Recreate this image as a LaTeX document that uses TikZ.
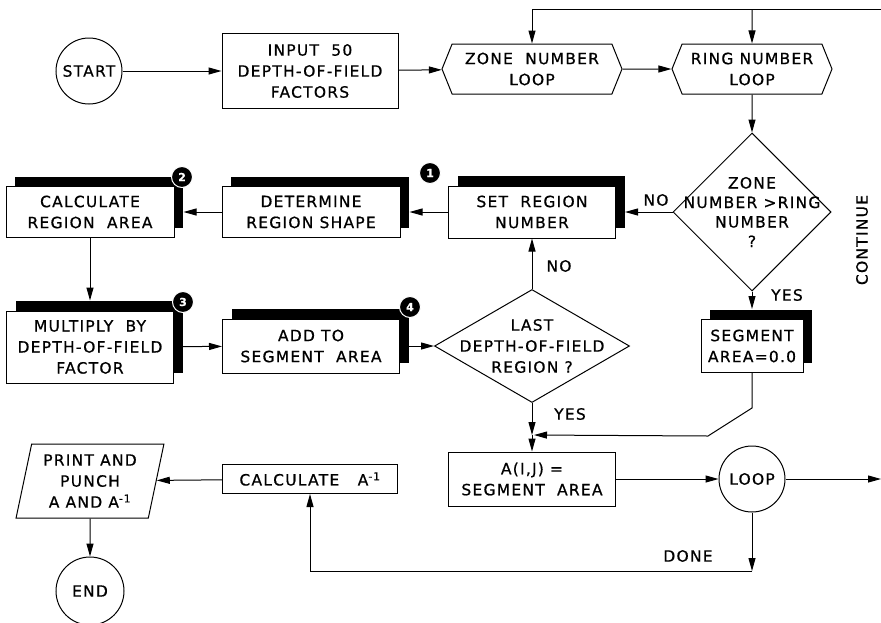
\documentclass[tikz,border=0pt]{standalone}
\usepackage{fontspec}
\setmainfont{DejaVu Sans}[LetterSpace=8, FakeBold=0.7]
\usetikzlibrary{arrows.meta,shapes.geometric,shapes.symbols,shadows}

\tikzset{
  arr/.style={-{Triangle[length=13pt,width=7pt]}},
  box/.style={draw, fill=white, align=center, inner sep=1pt},
  shbox/.style={box, drop shadow={shadow xshift=9pt, shadow yshift=10pt, fill=black, opacity=1}},
  term/.style={draw, circle, inner sep=0pt},
  hexa/.style={draw, signal, signal to=west and east, signal pointer angle=136, align=center, inner sep=1pt},
  decision/.style={draw, diamond, inner sep=0pt},
  badge/.style={circle, fill=black, draw=white, text=white, inner sep=0pt, minimum size=21pt, font=\bfseries\fontsize{11}{11}\selectfont},
  lbl/.style={inner sep=0pt}
}

\begin{document}
\begin{tikzpicture}[x=1pt, y=-1pt, line width=1pt, font=\fontsize{15.5}{21}\selectfont]
 \useasboundingbox (0,0) rectangle (881,622);

 % first row
 \node[term, minimum size=66pt] (start) at (89,71) {START};
 \node[box, minimum width=176pt, minimum height=75pt] (input) at (310,71) {INPUT\ \ 50\\DEPTH-OF-FIELD\\FACTORS};
 \node[hexa, minimum width=180pt, minimum height=50pt] (zone) at (532,69) {ZONE\ \ NUMBER\\LOOP};
 \node[hexa, minimum width=160pt, minimum height=50pt] (ring) at (752,69) {RING NUMBER\\LOOP};
 \coordinate (back) at (881,9);

 % second row
 \node[decision, minimum width=158pt, minimum height=158pt] (cmp) at (752,212) {};
 \node[align=center, font=\fontsize{15.5}{19.5}\selectfont] (cmptxt) at (cmp) {ZONE\\NUMBER >RING\\NUMBER\\?};
 \node[shbox, minimum width=167pt, minimum height=52pt] (sr) at (532,212) {SET\ \ REGION\\NUMBER};
 \node[shbox, minimum width=178pt, minimum height=51pt] (det) at (311,212) {DETERMINE\\REGION SHAPE};
 \node[shbox, minimum width=168pt, minimum height=51pt] (calc) at (90,212) {CALCULATE\\REGION\ \ AREA};

 % third row
 \node[shbox, minimum width=167pt, minimum height=72pt] (mult) at (90,347) {MULTIPLY\ \ BY\\DEPTH-OF-FIELD\\FACTOR};
 \node[shbox, minimum width=177pt, minimum height=54pt] (add) at (311,346) {ADD TO\\SEGMENT\ \ AREA};
 \node[decision, minimum width=195pt, minimum height=113pt] (last) at (532,346) {};
 \node[align=center] (lasttxt) at (last) {LAST\\DEPTH-OF-FIELD\\REGION ?};
 \node[shbox, minimum width=102pt, minimum height=53pt] (seg) at (752,346) {SEGMENT\\AREA=0.0};

 % badges
 \node[badge] (b1) at (430,173) {1};
 \node[badge] (b2) at (182,177) {2};
 \node[badge] (b3) at (183,302) {3};
 \node[badge] (b4) at (410,307) {4};

 % fourth row
 \node[box, minimum width=167pt, minimum height=54pt] (aij) at (532,479) {A(I,J) =\\SEGMENT\ \ AREA};
 \node[term, minimum size=66pt] (loop) at (752,479) {LOOP};
 \coordinate (out) at (881,479);
 \node[box, minimum width=175pt, minimum height=29pt] (calca) at (310,479) {CALCULATE\ \ \ A\textsuperscript{-1}};
 \node[draw, trapezium, trapezium left angle=77, trapezium right angle=103, trapezium stretches=true,
   minimum width=148pt, minimum height=74pt, align=center, inner sep=1pt] (print) at (90,481) {PRINT AND\\PUNCH\\A AND A\textsuperscript{-1}};
 \node[term, minimum size=68pt] (end) at (90,591) {END};

 % labels
 \node[lbl] (no1) at (656,200) {NO};
 \node[lbl] (no2) at (559,266) {NO};
 \node[lbl] (yes1) at (787,295) {YES};
 \node[lbl] (yes2) at (570,414) {YES};
 \node[lbl] (done) at (688,556) {DONE};
 \node[lbl, rotate=90] (cont) at (862,240) {CONTINUE};

 % connectors
 \draw[arr] (start) -- (input);
 \draw[arr] (input) -- (zone);
 \draw[arr] (zone) -- (ring);
 \draw[arr] (back) -| (zone.north);
 \draw[arr] (ring.north |- back) -- (ring);
 \draw[arr] (ring) -- (cmp);
 \draw[arr] (cmp) -- ([xshift=9pt]sr.east);
 \draw[arr] (sr) -- ([xshift=9pt]det.east);
 \draw[arr] (det) -- ([xshift=9pt]calc.east);
 \draw[arr] (calc) -- ([yshift=10pt]mult.north);
 \draw[arr] (mult) -- (add);
 \draw[arr] ([xshift=9pt]add.east) -- (last);
 \draw[arr] (last) -- (sr);
 \draw[arr] (cmp) -- ([yshift=10pt]seg.north);
 \coordinate (j) at (532,435);
 \draw[arr] (last) -- (j);
 \draw[arr] (j) -- (aij);
 \draw[arr, shorten >=2pt] (seg.south) -- ++(0,35) -- ++(-44,28) -- (j);
 \draw[arr] (aij) -- (loop);
 \draw[arr] (loop) -- (out);
 \coordinate (d) at (752,571);
 \draw[arr] (loop) -- (d);
 \draw[arr] (d) -| (calca);
 \draw[arr] (calca) -- (print);
 \draw[arr] (print) -- (end);
\end{tikzpicture}
\end{document}
